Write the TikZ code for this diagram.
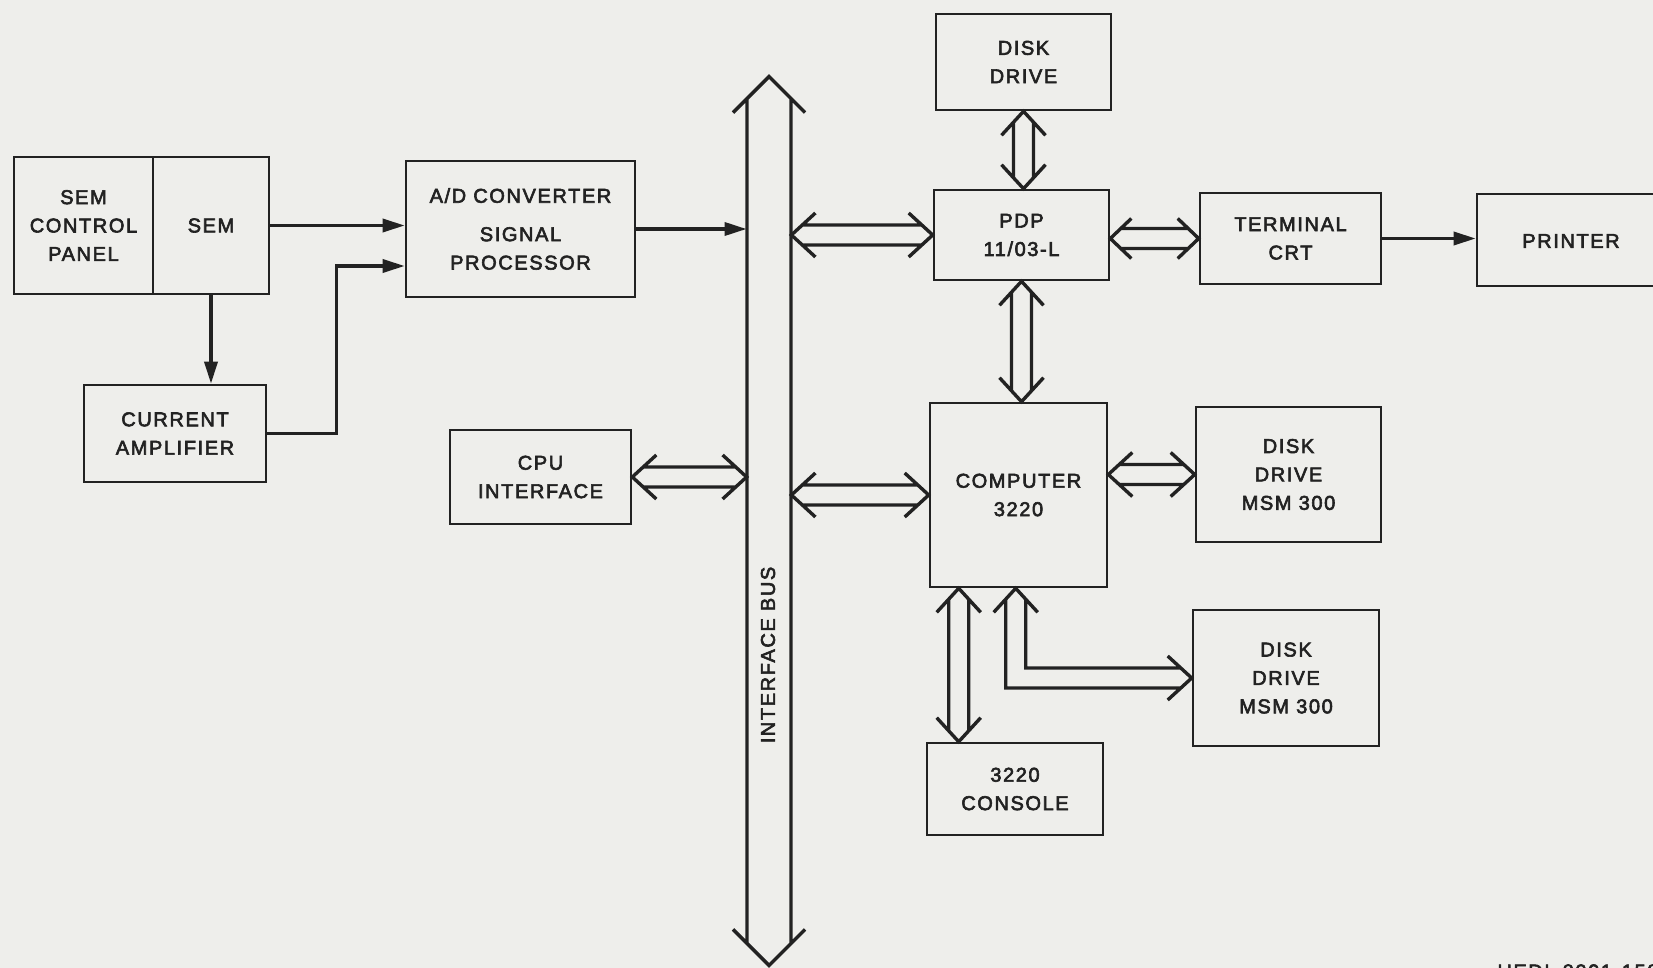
\documentclass[tikz,border=0pt]{standalone}
\usepackage{fontspec}
\setmainfont{Liberation Sans}[LetterSpace=8, FakeBold=3]
\usetikzlibrary{fit,calc,arrows.meta}
\definecolor{paper}{RGB}{238,238,235}
\definecolor{ink}{RGB}{34,34,34}

% horizontal double-line arrow: left end, right end, half gap, wing half-span, head length
\newcommand\hdbl[5]{%
  \draw[dbl] ($(#1)+(#5,-#4)$) -- (#1) -- ($(#1)+(#5,#4)$)
    ($(#2)+(-#5,-#4)$) -- (#2) -- ($(#2)+(-#5,#4)$)
    ($(#1)+({#5*#3/#4},-#3)$) -- ($(#2)+({-#5*#3/#4},-#3)$)
    ($(#1)+({#5*#3/#4},#3)$) -- ($(#2)+({-#5*#3/#4},#3)$);}
% vertical double-line arrow: top end, bottom end, half gap, wing half-span, head length
\newcommand\vdbl[5]{%
  \draw[dbl] ($(#1)+(-#4,#5)$) -- (#1) -- ($(#1)+(#4,#5)$)
    ($(#2)+(-#4,-#5)$) -- (#2) -- ($(#2)+(#4,-#5)$)
    ($(#1)+(-#3,{#5*#3/#4})$) -- ($(#2)+(-#3,{-#5*#3/#4})$)
    ($(#1)+(#3,{#5*#3/#4})$) -- ($(#2)+(#3,{-#5*#3/#4})$);}

\begin{document}
\begin{tikzpicture}[x=0.5pt,y=-0.5pt,
  blk/.style={draw=ink, line width=1.3pt, inner sep=0pt},
  txt/.style={inner sep=0pt, align=center, font=\fontsize{10}{14.2}\selectfont, text=ink},
  sig/.style={draw=ink, line width=1.7pt, -{Triangle[length=11pt,width=6.5pt]}},
  dbl/.style={draw=ink, line width=1.7pt, line join=miter, line cap=butt},
  lbl/.style={font=\fontsize{10}{14.2}\selectfont, text=ink, inner sep=0pt}]

\fill[paper] (0,0) rectangle (1653,968);
\useasboundingbox (0,0) rectangle (1653,968);

% blocks
\node[blk, fit={(14,157)(153,294)}] (scp) {};
\node[blk, fit={(153,157)(269,294)}] (sem) {};
\node[blk, fit={(84,385)(266,482)}] (amp) {};
\node[blk, fit={(406,161)(635,297)}] (adc) {};
\node[blk, fit={(450,430)(631,524)}] (cpu) {};
\node[blk, fit={(936,14)(1111,110)}] (disk) {};
\node[blk, fit={(934,190)(1109,280)}] (pdp) {};
\node[blk, fit={(1200,193)(1381,284)}] (term) {};
\node[blk, fit={(1477,194)(1665,286)}] (prn) {};
\node[blk, fit={(930,403)(1107,587)}] (comp) {};
\node[blk, fit={(1196,407)(1381,542)}] (dska) {};
\node[blk, fit={(1193,610)(1379,746)}] (dskb) {};
\node[blk, fit={(927,743)(1103,835)}] (cons) {};

% block texts
\node[txt] (scpT) at (scp.center) {SEM\\CONTROL\\PANEL};
\node[txt] (semT) at (sem.center) {SEM};
\node[txt] (ampT) at (amp.center) {CURRENT\\AMPLIFIER};
\node[txt] (adcT) at (adc.center) {A/D CONVERTER\\[5pt]SIGNAL\\PROCESSOR};
\node[txt] (cpuT) at (cpu.center) {CPU\\INTERFACE};
\node[txt] (diskT) at (disk.center) {DISK\\DRIVE};
\node[txt] (pdpT) at (pdp.center) {PDP\\11/03-L};
\node[txt] (termT) at (term.center) {TERMINAL\\CRT};
\node[txt] (prnT) at ($(prn.center)+(0,1)$) {PRINTER};
\node[txt] (compT) at (comp.center) {COMPUTER\\3220};
\node[txt] (dskaT) at (dska.center) {DISK\\DRIVE\\MSM 300};
\node[txt] (dskbT) at (dskb.center) {DISK\\DRIVE\\MSM 300};
\node[txt] (consT) at (cons.center) {3220\\CONSOLE};

% interface bus
\node[inner sep=0pt, fit={(747,77)(791,965)}] (bus) {};
\vdbl{bus.north}{bus.south}{22}{36}{36}
\node[lbl, rotate=90] (buslbl) at (768,655) {INTERFACE BUS};

% single-line signal paths
\draw[sig] (sem.east) -- (sem.east -| adc.west);
\coordinate (adin) at ($(adc.west)+(0,37)$);
\coordinate (bend) at ($(amp.east)+(69,0)$);
\draw[sig] (amp.east) -- (bend) |- (adin);
\draw[sig] (sem.south) -- (sem.south |- amp.north);
\draw[sig] (adc.east) -- (adc.east -| bus.west);
\draw[sig] (term.east) -- (term.east -| prn.west);

% double-line data paths
\coordinate (cpuR) at (cpu.east);
\coordinate (busC) at (bus.west |- cpu.east);
\hdbl{cpuR}{busC}{10}{22}{24}
\coordinate (busP) at (bus.east |- pdp.west);
\coordinate (pdpL) at (pdp.west);
\hdbl{busP}{pdpL}{10}{22}{24}
\coordinate (busM) at (bus.east |- comp.west);
\coordinate (compL) at (comp.west);
\hdbl{busM}{compL}{10}{22}{24}
\coordinate (pdpR) at (pdp.east |- term.west);
\coordinate (termL) at (term.west);
\hdbl{pdpR}{termL}{10}{20}{21}
\coordinate (compR) at (comp.east |- dska.west);
\coordinate (dskaL) at (dska.west);
\hdbl{compR}{dskaL}{10}{22}{24}
\coordinate (diskB) at (disk.south);
\coordinate (pdpTop) at (disk.south |- pdp.north);
\vdbl{diskB}{pdpTop}{10}{22}{24}
\coordinate (pdpB) at (pdp.south);
\coordinate (compTop) at (pdp.south |- comp.north);
\vdbl{pdpB}{compTop}{10}{22}{24}
\coordinate (compBa) at ($(comp.south west)+(30,0)$);
\coordinate (consTop) at (compBa |- cons.north);
\vdbl{compBa}{consTop}{10}{22}{24}

% bent double path from the computer to the second disk drive
\coordinate (compBb) at ($(comp.south west)+(87,0)$);
\coordinate (dskbL) at (dskb.west);
\draw[dbl] ($(compBb)+(-22,24)$) -- (compBb) -- ($(compBb)+(22,24)$)
  ($(dskbL)+(-24,-22)$) -- (dskbL) -- ($(dskbL)+(-24,22)$)
  ($(compBb)+(-10,10.9)$) |- ($(dskbL)+(-10.9,10)$)
  ($(compBb)+(10,10.9)$) |- ($(dskbL)+(-10.9,-10)$);

% drawing number
\node[lbl, anchor=north west] (dwg) at (1497,964) {HEDL 8201-158.2};
\end{tikzpicture}
\end{document}
